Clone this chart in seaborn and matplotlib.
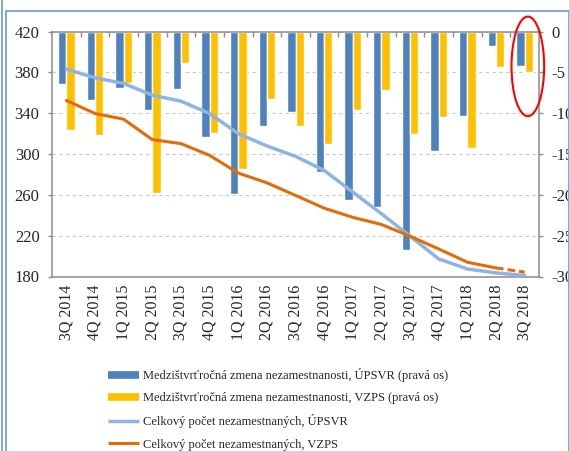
import matplotlib
matplotlib.use("Agg")
import matplotlib.pyplot as plt
import seaborn as sns
import numpy as np
import pandas as pd
from matplotlib.lines import Line2D
from matplotlib.patches import Ellipse, Rectangle

quarters = ["3Q 2014", "4Q 2014", "1Q 2015", "2Q 2015", "3Q 2015", "4Q 2015",
            "1Q 2016", "2Q 2016", "3Q 2016", "4Q 2016", "1Q 2017", "2Q 2017",
            "3Q 2017", "4Q 2017", "1Q 2018", "2Q 2018", "3Q 2018"]

# year-on-year change (right axis)
upsvr_change = [-6.4, -8.4, -6.9, -9.6, -7.0, -12.9, -19.9, -11.6, -9.9,
                -17.2, -20.6, -21.5, -26.7, -14.6, -10.3, -1.8, -4.2]
vzps_change = [-12.0, -12.6, -6.3, -19.8, -3.8, -12.4, -16.8, -8.3, -11.5,
               -13.8, -9.6, -7.1, -12.5, -10.5, -14.3, -4.3, -4.9]

# total unemployed, thousands (left axis)
upsvr_total = [383.3, 374.8, 369.3, 357.8, 351.9, 339.8, 320.1, 308.0, 297.8,
               284.0, 262.8, 241.5, 219.5, 197.2, 187.4, 183.5, 181.0]
vzps_total = [352.6, 339.8, 334.2, 314.2, 310.3, 298.8, 281.4, 271.9, 259.5,
              247.0, 238.0, 231.0, 219.5, 207.0, 194.0, 188.4, 184.3]

labels = ["Medzištvrťročná zmena nezamestnanosti, ÚPSVR (pravá os)",
          "Medzištvrťročná zmena nezamestnanosti, VZPS (pravá os)",
          "Celkový počet nezamestnaných, ÚPSVR",
          "Celkový počet nezamestnaných, VZPS"]

BLUE = "#4f81bd"
YELLOW = "#ffc000"
LIGHT = "#8eb4e3"
ORANGE = "#e36c09"
GRAY = "#8c8c8c"

sns.set_theme(style="white")
plt.rcParams["font.family"] = ["Liberation Serif", "DejaVu Serif"]
plt.rcParams["axes.unicode_minus"] = False

df = pd.DataFrame({
    "quarter": quarters * 2,
    "value": upsvr_change + vzps_change,
    "series": [labels[0]] * len(quarters) + [labels[1]] * len(quarters),
})

fig = plt.figure(figsize=(5.69, 4.51), dpi=100)
ax = fig.add_axes([52 / 569, 1 - 276.5 / 451, (539 - 52) / 569, (276.5 - 31.7) / 451])
ax2 = ax.twinx()

# bars on the right axis, lines on the left one
sns.barplot(data=df, x="quarter", y="value", hue="series",
            palette=[BLUE, YELLOW], width=0.58, gap=0, saturation=1,
            ax=ax, legend=False)
ax.set_ylim(-30, 0)
ax.set_xlim(-0.5, len(quarters) - 0.5)
ax.set_yticks(np.arange(-30, 1, 5))
ax.yaxis.tick_right()
ax.set_axisbelow(True)
ax.yaxis.grid(True, color="#c8c8c8", linestyle=(0, (3, 3)), linewidth=0.8)
ax.set_xlabel("")
ax.set_ylabel("")
ax.tick_params(axis="y", which="major", right=True, left=False,
               labelright=True, labelleft=False, length=3, width=1,
               color=GRAY, labelsize=12, pad=6, direction="out")
ax.tick_params(axis="x", which="major", length=0, labelsize=11.5, pad=6,
               labelrotation=90)
ax.set_xticks(np.arange(0.5, len(quarters) - 0.5), minor=True)
ax.tick_params(axis="x", which="minor", top=True, bottom=False, direction="in",
               length=3.5, width=1, color=GRAY)
for s in ax.spines.values():
    s.set_color(GRAY)
    s.set_linewidth(1.1)

idx = np.arange(len(quarters))
sns.lineplot(x=idx, y=upsvr_total, ax=ax2, color=LIGHT, linewidth=2.5)
sns.lineplot(x=idx[:16], y=vzps_total[:16], ax=ax2, color=ORANGE, linewidth=2.2)
sns.lineplot(x=idx[15:], y=vzps_total[15:], ax=ax2, color=ORANGE, linewidth=2.2,
             linestyle=(0, (2.5, 1.3)))
ax2.set_ylim(180, 420)
ax2.set_xlim(-0.5, len(quarters) - 0.5)
ax2.set_yticks(np.arange(180, 421, 40))
ax2.yaxis.tick_left()
ax2.tick_params(axis="y", left=True, right=False, labelleft=True,
                labelright=False, length=3, width=1,
                color=GRAY, labelsize=12, pad=6, direction="out")
ax2.tick_params(axis="x", bottom=False, labelbottom=False, top=False)
for s in ax2.spines.values():
    s.set_visible(False)

# red highlight around the last quarter
ax.add_patch(Ellipse((16.11, -4.25), 1.14, 12.2, fill=False, edgecolor="#ff0000",
                     linewidth=1.5, clip_on=False, zorder=10))

handles = [Line2D([], [], color=BLUE, linewidth=5.5, solid_capstyle="butt"),
           Line2D([], [], color=YELLOW, linewidth=5.5, solid_capstyle="butt"),
           Line2D([], [], color=LIGHT, linewidth=2.5, solid_capstyle="butt"),
           Line2D([], [], color=ORANGE, linewidth=2.2, solid_capstyle="butt")]
fig.legend(handles, labels, loc="upper left",
           bbox_to_anchor=(108 / 569, 1 - 368 / 451), frameon=False,
           fontsize=9, handlelength=2.45, handletextpad=0.35,
           labelspacing=0.82, borderpad=0, borderaxespad=0)

# chart frame
fig.add_artist(Rectangle((6 / 569, -0.05), 0.99, 1 - 11 / 451 + 0.05,
                         transform=fig.transFigure, fill=False,
                         edgecolor="#6f98cc", linewidth=1.2))
fig.add_artist(Line2D([1.5 / 569, 1.5 / 569], [0, 1], transform=fig.transFigure,
                      color="#6f98cc", linewidth=1.2))

fig.savefig("out.png", dpi=100)
